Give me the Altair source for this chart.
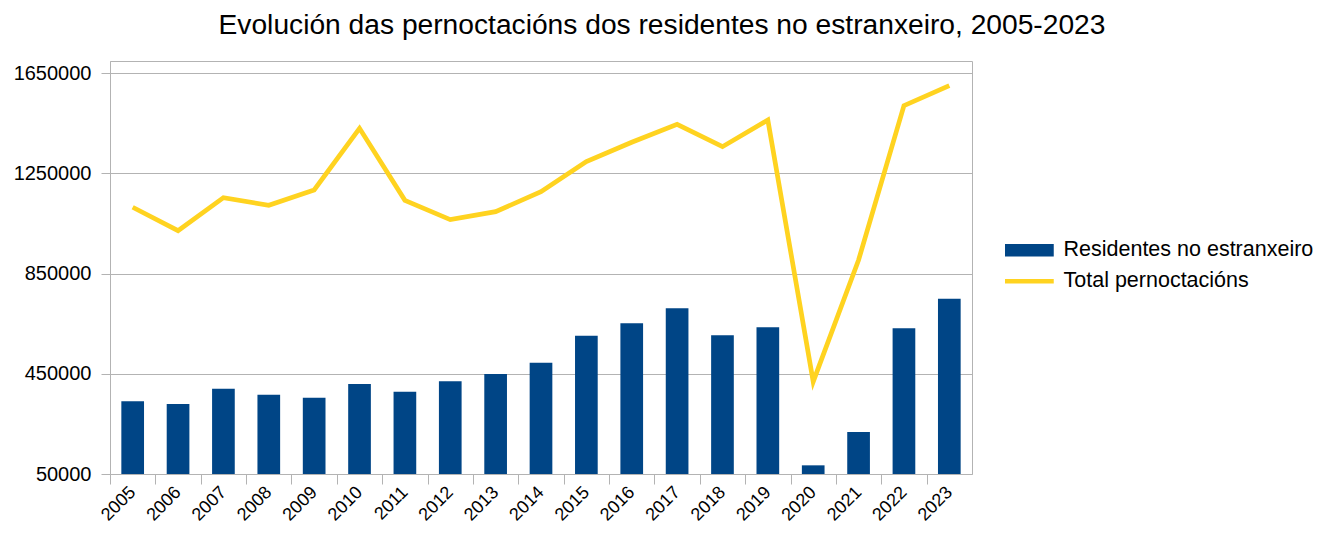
import altair as alt
import pandas as pd

# Categories
anos = ["2005", "2006", "2007", "2008", "2009", "2010", "2011", "2012", "2013", "2014",
        "2015", "2016", "2017", "2018", "2019", "2020", "2021", "2022", "2023"]

# Series values
residentes = [340000, 329500, 390600, 366700, 354700, 409400, 378700, 420100, 449300, 494500,
              602300, 651700, 711500, 603700, 635600, 84600, 217700, 631600, 750100]
total = [1115000, 1021600, 1153300, 1122800, 1184000, 1430300, 1142800, 1065600, 1097500, 1177300,
         1297100, 1374500, 1446300, 1357000, 1463500, 418600, 904500, 1520700, 1600500]

y_ticks = [50000, 450000, 850000, 1250000, 1650000]

serie_bar = "Residentes no estranxeiro"
serie_line = "Total pernoctacións"

df = pd.DataFrame({
    "ano": anos * 2,
    "serie": [serie_bar] * len(anos) + [serie_line] * len(anos),
    "valor": residentes + total,
})

FONT = "Liberation Sans"
GRID = "#b3b3b3"

x_scale = alt.Scale(paddingInner=0.5, paddingOuter=0.25)
y_scale = alt.Scale(domain=[50000, 1699000], zero=False, nice=False)
color_scale = alt.Scale(domain=[serie_bar, serie_line], range=["#004586", "#ffd320"])

legend = alt.Legend(
    title=None, orient="none", legendX=895, legendY=175, padding=0,
    symbolType="stroke", symbolSize=2704, symbolOffset=12,
    symbolStrokeWidth=alt.ExprRef("datum.value === '" + serie_bar + "' ? 12.5 : 4.7"),
    symbolStrokeColor=alt.ExprRef("scale('color', datum.value)"),
    symbolOpacity=1,
    labelFont=FONT, labelFontSize=21.5, labelColor="#000000", labelOffset=25,
    labelLimit=400, clipHeight=28.5, rowPadding=2,
)

bars = alt.Chart(df).transform_filter(
    alt.datum.serie == serie_bar
).mark_bar().encode(
    x=alt.X("ano:N", scale=x_scale, title=None, sort=anos,
            axis=alt.Axis(orient="bottom", ticks=False, domain=False, grid=False,
                          labelAngle=-45, labelFont=FONT, labelFontSize=18,
                          labelColor="#000000", labelPadding=9, labelOffset=-6)),
    y=alt.Y("valor:Q", scale=y_scale, title=None,
            axis=alt.Axis(values=y_ticks, format="d", grid=True, gridColor=GRID,
                          tickColor=GRID, tickSize=9, domainColor=GRID,
                          labelFont=FONT, labelFontSize=20, labelColor="#000000",
                          labelPadding=10)),
    y2=alt.Y2(datum=50000),
    color=alt.Color("serie:N", scale=color_scale, legend=legend),
)

line = alt.Chart(df).transform_filter(
    alt.datum.serie == serie_line
).mark_line(strokeWidth=4.7, strokeJoin="miter").encode(
    x=alt.X("ano:N", scale=x_scale, title=None, sort=anos,
            axis=alt.Axis(orient="bottom", labels=False, domain=False, grid=False,
                          ticks=True, tickColor=GRID, tickSize=10,
                          bandPosition=0, tickOffset=-11.34)),
    y=alt.Y("valor:Q", scale=y_scale, title=None),
    color=alt.Color("serie:N", scale=color_scale, legend=legend),
)

chart = alt.layer(bars, line).resolve_axis(x="independent").properties(
    width=862,
    height=413,
    autosize=alt.AutoSizeParams(type="none"),
    padding={"left": 102, "top": 53, "right": 343, "bottom": 50},
    title=alt.TitleParams(
        "Evolución das pernoctacións dos residentes no estranxeiro, 2005-2023",
        font=FONT, fontSize=28.2, fontWeight="normal", color="#000000",
        anchor="middle", dx=121, offset=-1, baseline="alphabetic",
    ),
).configure_view(stroke=GRID, strokeWidth=1)

chart.save("out.html", embed_options={"renderer": "svg", "actions": False})
